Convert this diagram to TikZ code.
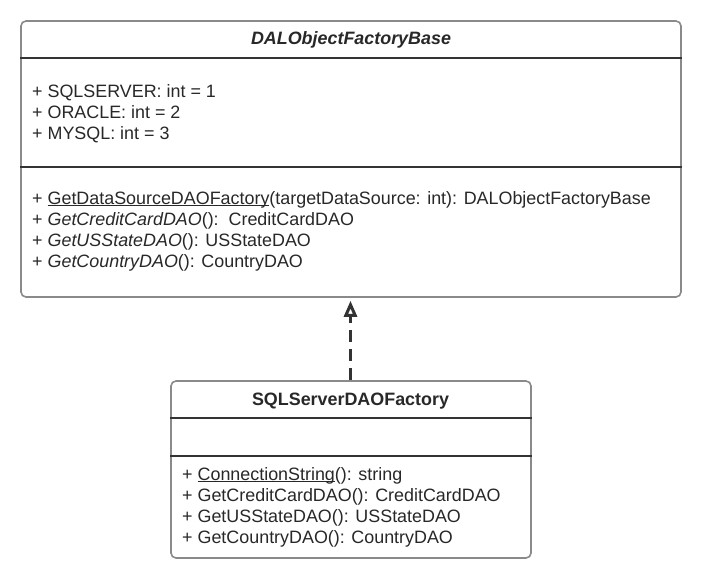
\documentclass[tikz,border=0pt]{standalone}
\usepackage{fontspec}
\setmainfont{Liberation Sans}
\usepackage{tikz}
\usetikzlibrary{arrows.meta}
\definecolor{umlborder}{HTML}{8A8A8A}
\definecolor{umlline}{HTML}{333333}
\definecolor{umltext}{HTML}{282828}
\newcommand{\undl}[1]{\setbox0\hbox{#1}\rlap{\rule[-2.2pt]{\wd0}{1.1pt}}\box0}

\begin{document}
\begin{tikzpicture}[
x = 1pt, y = -1pt, % pixel grid
> = {Triangle[open, length=16pt, width=13pt]}, % arrow head style
font = \fontsize{17.9}{21}\selectfont,
text = umltext
]
\tikzstyle{classbox}=[
draw = umlborder,
line width = 1.6pt,
rounded corners = 5pt,
fill = white,
inner sep = 0pt
]
\tikzstyle{member}=[anchor = base west, inner sep = 0pt]
\tikzstyle{classname}=[anchor = base, inner sep = 0pt, font = \fontsize{17.9}{21}\selectfont\bfseries]
\tikzstyle{compartment}=[draw = umlline, line width = 1.2pt]
\tikzstyle{realizes}=[draw = umlline, line width = 3pt, dash pattern = on 12pt off 7pt, shorten > = 3pt]
\useasboundingbox (0,0) rectangle (701,579);
% base class
\node[classbox, minimum width = 660pt, minimum height = 276pt] (base) at (351,159) {};
\node[classname] (baseName) at (351,44) {\itshape DALObjectFactoryBase};
\draw[compartment] (base.west |- 0,58) -- (base.east |- 0,58);
\draw[compartment] (base.west |- 0,167) -- (base.east |- 0,167);
\node[member] (attr1) at (32,97) {+ SQLSERVER: int = 1};
\node[member] (attr2) at (32,118) {+ ORACLE: int = 2};
\node[member] (attr3) at (32,139) {+ MYSQL: int = 3};
\node[member] (op1) at (32,204) {+ \undl{GetDataSourceDAOFactory}(targetDataSource: int): DALObjectFactoryBase};
\node[member] (op2) at (32,225.5) {+ \textit{GetCreditCardDAO}():\ \ CreditCardDAO};
\node[member] (op3) at (32,246.5) {+ \textit{GetUSStateDAO}(): USStateDAO};
\node[member] (op4) at (32,267.5) {+ \textit{GetCountryDAO}(): CountryDAO};
% concrete factory
\node[classbox, minimum width = 360pt, minimum height = 177pt] (impl) at (351,469.5) {};
\node[classname] (implName) at (350.5,405) {SQLServerDAOFactory};
\draw[compartment] (impl.west |- 0,418) -- (impl.east |- 0,418);
\draw[compartment] (impl.west |- 0,456) -- (impl.east |- 0,456);
\node[member] (implOp1) at (182,480) {+ \undl{ConnectionString}(): string};
\node[member] (implOp2) at (182,501.5) {+ GetCreditCardDAO(): CreditCardDAO};
\node[member] (implOp3) at (182,522) {+ GetUSStateDAO(): USStateDAO};
\node[member] (implOp4) at (182,543) {+ GetCountryDAO(): CountryDAO};
\draw[->, realizes] ([xshift=-0.5pt]impl.north) -- ([xshift=-0.5pt]base.south);
\end{tikzpicture}
\end{document}
